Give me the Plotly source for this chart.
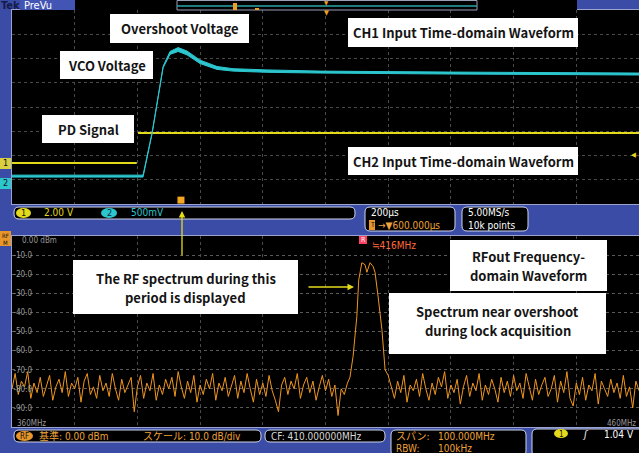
import plotly.graph_objects as go
import numpy as np

W, H = 639, 453

# ---------------- data ----------------
# upper scope: time (us) vs vertical divisions
pd_t = [0, 398, None, 402, 2000]
pd_div = [-2.31, -2.31, None, -1.07, -1.07]

vco_t = [0, 418, 447, 463, 482, 504, 530, 558, 600, 654, 705, 813, 983, 1400, 2000]
vco_div = [-2.85, -2.85, -1.07, 0.16, 1.65, 2.23, 2.37, 2.23, 1.86, 1.61, 1.53, 1.48, 1.44, 1.40, 1.36]
vco_hw = [0.04, 0.04, 0.02, 0.02, 0.03, 0.06, 0.08, 0.08, 0.07, 0.06, 0.05, 0.05, 0.04, 0.04, 0.04]

marker_t = [539]

# lower scope: spectrum (MHz, dBm)
noise_left = [
    -80, -72, -83, -76, -79, -71, -85, -77, -82, -74,
    -84, -78, -73, -86, -79, -75, -82, -71, -84, -77,
    -80, -74, -87, -76, -72, -83, -79, -85, -73, -81,
    -77, -84, -72, -80, -86, -75, -82, -78, -74, -92,
    -79, -73, -85, -77, -81, -72, -86, -78, -83, -75,
    -80, -74, -84, -71, -79, -85, -76, -82, -73, -87,
    -78, -83, -75, -80, -72, -86, -77, -81, -74, -84,
    -79, -73, -85, -76, -82, -72, -80, -87, -75, -83,
    -77, -84, -73, -81, -86, -92, -78, -74, -83, -76,
    -80, -72, -85, -78, -74, -82, -76, -86, -79, -73,
    -81, -75, -84, -78, -94, -80, -83, -77,
]
peak_freq = [413.9, 414.4, 415.0, 415.3, 415.8, 416.3, 416.6, 417.1, 417.6, 417.9, 418.4, 419.0, 419.5, 420.0]
peak_dbm = [-74, -63, -42, -23, -14, -15, -19, -14, -16, -19, -32, -49, -70, -73]
noise_right = [
    -79, -85, -76, -82, -73, -87, -78, -81, -75, -84,
    -72, -80, -86, -77, -83, -74, -79, -71, -85, -78,
    -82, -75, -88, -79, -73, -84, -77, -81, -72, -86,
    -78, -83, -75, -80, -87, -74, -82, -76, -84, -73,
    -81, -77, -85, -72, -79, -86, -75, -83, -78, -74,
    -84, -80, -73, -87, -76, -82, -71, -85, -89, -77,
    -83, -74, -86, -78, -81, -72, -88, -76, -80, -84,
    -75, -82, -77, -85, -73, -84, -79, -90, -76, -81,
]
freq_left = 360.0 + 0.5 * np.arange(len(noise_left))
freq_right = 420.5 + 0.5 * np.arange(len(noise_right))

db_ticks = [-10, -20, -30, -40, -50, -60, -70, -80, -90]
db_tick_text = ["-10.0", "-20.0", "-30.0", "-40.0", "-50.0", "-60.0", "-70.0", "-80.0", "-90.0"]

# ---------------- colours ----------------
BLUE = "#3b4ca6"
YEL = "#e4da1c"
CYAN = "#2cc6cf"
ORG = "#f0961e"
OTXT = "#eea33a"
BORDER = "#cfd4ea"
UIFONT = "DejaVu Sans Condensed, Liberation Sans Narrow, Liberation Sans, Noto Sans CJK JP"


def px(x):
    return x / W


def py(y):
    return 1 - y / H


fig = go.Figure()

# ---------------- traces ----------------
fig.add_trace(go.Scatter(x=pd_t, y=pd_div, mode="lines", line=dict(color=YEL, width=2),
                         connectgaps=False, xaxis="x", yaxis="y", hoverinfo="skip"))
vhi = [m + h for m, h in zip(vco_div, vco_hw)]
vlo = [m - h for m, h in zip(vco_div, vco_hw)]
fig.add_trace(go.Scatter(x=vco_t, y=vhi, mode="lines", line=dict(color=CYAN, width=1),
                         xaxis="x", yaxis="y", hoverinfo="skip"))
fig.add_trace(go.Scatter(x=vco_t, y=vlo, mode="lines", line=dict(color=CYAN, width=1),
                         fill="tonexty", fillcolor=CYAN, xaxis="x", yaxis="y", hoverinfo="skip"))
fig.add_trace(go.Scatter(x=marker_t, y=[-3.84], mode="markers",
                         marker=dict(symbol="square", size=7, color="#f5a623"),
                         xaxis="x", yaxis="y", hoverinfo="skip"))

spec_f = list(freq_left) + peak_freq + list(freq_right)
spec_d = noise_left + peak_dbm + noise_right
fig.add_trace(go.Scatter(x=spec_f, y=spec_d, mode="lines", line=dict(color=ORG, width=1),
                         xaxis="x2", yaxis="y2", hoverinfo="skip"))

# ---------------- shapes ----------------
shapes = []


def rect(x0, y0, x1, y1, fill, line=None, lw=1):
    shapes.append(dict(type="rect", xref="paper", yref="paper",
                       x0=px(x0), x1=px(x1), y0=py(y1), y1=py(y0),
                       fillcolor=fill, line=dict(color=line or fill, width=lw if line else 0),
                       layer="above"))


def rrect(x0, y0, x1, y1, r=5, fill="black", line=BORDER):
    pts = [
        f"M {px(x0 + r)},{py(y0)}", f"L {px(x1 - r)},{py(y0)}",
        f"Q {px(x1)},{py(y0)} {px(x1)},{py(y0 + r)}", f"L {px(x1)},{py(y1 - r)}",
        f"Q {px(x1)},{py(y1)} {px(x1 - r)},{py(y1)}", f"L {px(x0 + r)},{py(y1)}",
        f"Q {px(x0)},{py(y1)} {px(x0)},{py(y1 - r)}", f"L {px(x0)},{py(y0 + r)}",
        f"Q {px(x0)},{py(y0)} {px(x0 + r)},{py(y0)}", "Z"]
    shapes.append(dict(type="path", xref="paper", yref="paper", path=" ".join(pts),
                       fillcolor=fill, line=dict(color=line, width=1), layer="above"))


def ellipse(x0, y0, x1, y1, fill):
    shapes.append(dict(type="circle", xref="paper", yref="paper",
                       x0=px(x0), x1=px(x1), y0=py(y1), y1=py(y0),
                       fillcolor=fill, line=dict(width=0), layer="above"))


def hline(x0, x1, y, color, w=1):
    shapes.append(dict(type="line", xref="paper", yref="paper", x0=px(x0), x1=px(x1),
                       y0=py(y), y1=py(y), line=dict(color=color, width=w), layer="above"))


# top strip
rect(75, 0, 577, 10, "black")
rect(20, 0, 75, 10, "#4254b4")
shapes.append(dict(type="rect", xref="paper", yref="paper", x0=px(177), x1=px(477),
                   y0=py(10), y1=py(0.5), fillcolor="black",
                   line=dict(color="#9aa0b8", width=1), layer="above"))
hline(177, 477, 6, "#2aa5a8", 1.5)
rect(233, 3, 237, 10, "#f0a020")
rect(255, 8, 259, 10, "#f0a020")

# left channel badges
rect(0, 158, 11, 169, "#d8d040")
rect(0, 178, 11, 189, CYAN)
rect(0, 231, 11, 246, "#e8962a")

# text boxes (white): box extents and (line text, line centre y)
boxes = [
    (110, 14, 249, 43, [("Overshoot Voltage", 28.5)]),
    (60, 51, 153, 79, [("VCO Voltage", 65)]),
    (42, 115, 134, 143, [("PD Signal", 129)]),
    (348, 18, 578, 47, [("CH1 Input Time-domain Waveform", 32.5)]),
    (348, 147, 578, 175, [("CH2 Input Time-domain Waveform", 161)]),
    (73, 260, 298, 314, [("The RF spectrum during this", 278), ("period is displayed", 297)]),
    (450, 240, 607, 291, [("RFout Frequency-", 256), ("domain Waveform", 275)]),
    (389, 293, 606, 354, [("Spectrum near overshoot", 311), ("during lock acquisition", 330)]),
]
for b in boxes:
    rect(b[0], b[1], b[2], b[3], "white")

# status bars
rrect(14, 207, 355, 219)
rrect(365, 207, 455, 231)
rrect(462, 207, 528, 231)
ellipse(16, 208, 31, 218, YEL)
ellipse(101, 208, 117, 218, CYAN)
rect(369, 220, 375, 230, "#e8962a")

rrect(14, 430, 261, 442)
rrect(265, 430, 385, 442)
rrect(391, 430, 526, 456)
rrect(532, 429, 645, 456)
ellipse(16, 431, 33, 441, "#e8962a")
ellipse(554, 429, 568, 438, YEL)

# ---------------- annotations ----------------
ann = []


def txt(x, y, s, color, size=10, anchor="left", family=UIFONT):
    ann.append(dict(x=px(x), y=py(y), xref="paper", yref="paper", text=s,
                    showarrow=False, xanchor=anchor, yanchor="middle",
                    font=dict(color=color, size=size, family=family)))


for b in boxes:
    cx = (b[0] + b[2]) / 2
    for line_text, ly in b[4]:
        ann.append(dict(x=px(cx), y=py(ly), xref="paper", yref="paper",
                        text=f"<b>{line_text}</b>", showarrow=False,
                        xanchor="center", yanchor="middle",
                        font=dict(color="#141414", size=13, family="Noto Sans CJK JP, Noto Sans")))

# arrows
ann.append(dict(x=px(182), y=py(211), xref="paper", yref="paper", text="", showarrow=True,
                ax=0, ay=46, arrowcolor=YEL, arrowwidth=1.3, arrowhead=2, arrowsize=1))
ann.append(dict(x=px(354), y=py(287), xref="paper", yref="paper", text="", showarrow=True,
                ax=-47, ay=0, arrowcolor=YEL, arrowwidth=1.3, arrowhead=2, arrowsize=1))

# top strip text
txt(-1, 5, "<b>Tek</b>", "#141a48", size=11)
txt(22, 5, "PreVu", "white", size=11)
txt(327, 2, "▼", "#f0a020", size=6, anchor="center")
txt(327, 13, "▼", "#f0a020", size=7, anchor="center")

# left channel markers
txt(5.5, 163.5, "1", "#111", size=9, anchor="center")
txt(5.5, 183.5, "2", "#111", size=9, anchor="center")
txt(638, 155, "◀", YEL, size=7, anchor="right")

# upper status
txt(23.5, 213, "1", "#111", size=9, anchor="center")
txt(42, 213, "2.00 V", YEL, size=10)
txt(109, 213, "2", "#0a2a3a", size=9, anchor="center")
txt(129, 213, "500mV", CYAN, size=10)
txt(369, 213, "200µs", "white", size=10)
txt(372, 225, "T", "#111", size=7, anchor="center")
txt(376, 225, "→▼600.000µs", OTXT, size=10)
txt(466, 213, "5.00MS/s", "white", size=10)
txt(466, 225, "10k points", "white", size=10)

# lower plot labels
txt(5.5, 235.5, "RF", "#111", size=6, anchor="center")
txt(5.5, 242.5, "M", "#111", size=6, anchor="center")
txt(20, 240, "0.00 dBm", "#9a9a9a", size=8)
txt(15, 423, "360MHz", "#9a9a9a", size=8)
txt(638, 423, "460MHz", "#9a9a9a", size=8, anchor="right")
rect(359, 236, 367, 244, "#ff4060")
txt(363, 240, "R", "white", size=7, anchor="center")
txt(370, 245, "≒416MHz", "#ff6a3a", size=10)

# bottom status
txt(24.5, 436, "RF", "#111", size=8, anchor="center")
txt(37, 436, "基準: 0.00 dBm", OTXT, size=10)
txt(141, 436, "スケール: 10.0 dB/div", OTXT, size=10)
txt(269, 436, "CF: 410.000000MHz", "#d8d8d8", size=10)
txt(394, 436, "スパン:", OTXT, size=10)
txt(436, 436, "100.000MHz", OTXT, size=10)
txt(394, 448, "RBW:", OTXT, size=10)
txt(436, 448, "100kHz", OTXT, size=10)
txt(561, 434, "1", "#111", size=8, anchor="center")
txt(580, 434, "<i>ʃ</i>", "white", size=10)
txt(636, 434, "1.04 V", "white", size=10, anchor="right")

# ---------------- layout ----------------
grid_up = dict(showgrid=True, gridcolor="#4a4a4a", griddash="dot", gridwidth=1,
               zeroline=False, showticklabels=False, ticks="",
               showline=True, mirror=True, linecolor="#9aa4cf", linewidth=1)
fig.update_layout(
    width=W, height=H, margin=dict(l=0, r=0, t=0, b=0),
    paper_bgcolor=BLUE, plot_bgcolor="black", showlegend=False,
    xaxis=dict(domain=[px(12), 1], range=[0, 2000], dtick=200, anchor="y", **grid_up),
    yaxis=dict(domain=[py(204), py(10)], range=[-4, 4], dtick=1, anchor="x", **grid_up),
    xaxis2=dict(domain=[px(12), 1], range=[360, 460], dtick=10, anchor="y2", **grid_up),
    yaxis2=dict(domain=[py(427), py(236)], range=[-100, 0], anchor="x2",
                showgrid=True, gridcolor="#5a5a5a", griddash="dot", zeroline=False,
                tickvals=db_ticks, ticktext=db_tick_text, ticklabelposition="inside",
                tickfont=dict(color="#9a9a9a", size=8,
                              family="DejaVu Sans Condensed, Liberation Sans Narrow, Liberation Sans"),
                ticks="", showline=True, mirror=True, linecolor="#9aa4cf", linewidth=1),
    shapes=shapes, annotations=ann,
)

fig.write_html("out.html")
